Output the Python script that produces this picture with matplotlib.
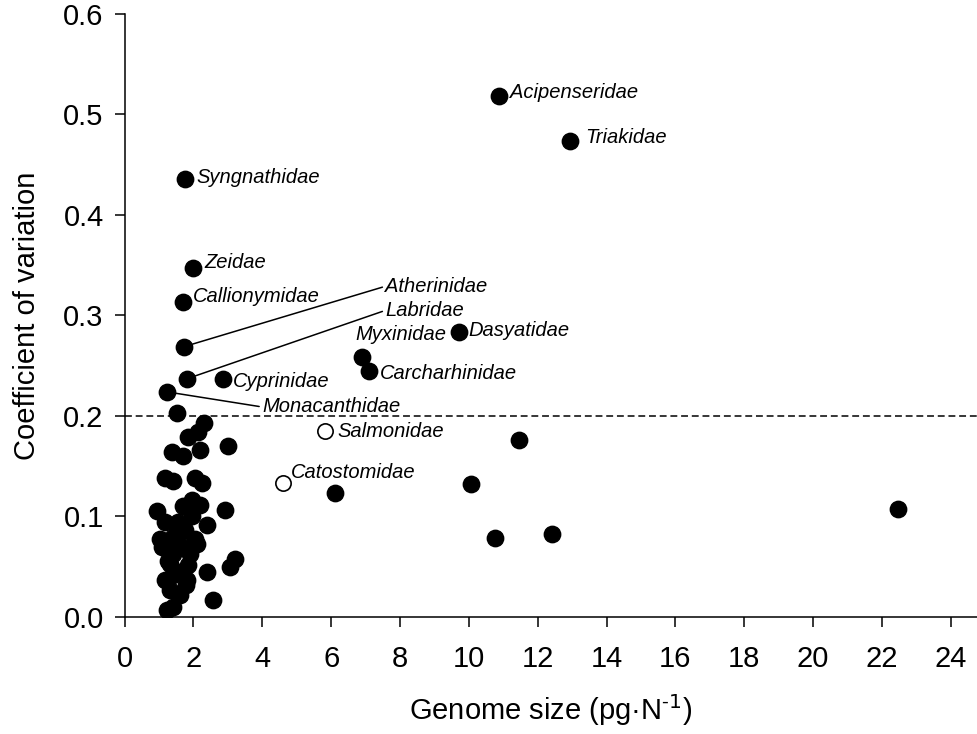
import matplotlib
matplotlib.use("Agg")
import matplotlib.pyplot as plt

plt.rcParams['font.family'] = ['Liberation Sans', 'DejaVu Sans']

# Labelled families (filled unless noted)
label_names = ["Acipenseridae", "Triakidae", "Syngnathidae", "Zeidae", "Callionymidae",
               "Atherinidae", "Labridae", "Cyprinidae", "Monacanthidae", "Myxinidae",
               "Carcharhinidae", "Dasyatidae"]
label_x = [10.88, 12.94, 1.75, 1.99, 1.70, 1.73, 1.81, 2.86, 1.23, 6.90, 7.10, 9.71]
label_y = [0.518, 0.474, 0.436, 0.347, 0.313, 0.269, 0.237, 0.237, 0.224, 0.259, 0.245, 0.284]

# Open-circle families
open_names = ["Salmonidae", "Catostomidae"]
open_x = [5.82, 4.60]
open_y = [0.185, 0.133]

# Unlabelled families
other_x = [6.11, 10.06, 11.46, 10.76, 12.42, 22.47,
           1.51, 2.31, 2.14, 1.85, 2.19, 1.39, 1.69, 3.01, 1.17, 1.41, 2.05, 2.24,
           2.92, 1.95, 2.19, 1.71, 0.93, 2.39, 1.17, 1.56, 1.95, 1.03, 1.41, 2.05,
           1.61, 1.08, 2.09, 1.41, 1.90, 1.32, 1.85, 2.39, 3.21, 3.06, 1.17, 1.80,
           1.32, 1.41, 1.22, 2.58, 1.61, 1.41, 1.78, 1.55, 1.75, 1.26, 1.61]
other_y = [0.123, 0.132, 0.176, 0.079, 0.083, 0.107,
           0.203, 0.193, 0.184, 0.179, 0.166, 0.164, 0.160, 0.170, 0.138, 0.135, 0.138, 0.133,
           0.106, 0.116, 0.111, 0.110, 0.105, 0.092, 0.095, 0.095, 0.100, 0.078, 0.080, 0.078,
           0.072, 0.070, 0.073, 0.063, 0.063, 0.053, 0.052, 0.045, 0.058, 0.050, 0.037, 0.037,
           0.027, 0.010, 0.007, 0.017, 0.045, 0.042, 0.032, 0.090, 0.087, 0.056, 0.022]

threshold = 0.2
x_ticks = list(range(0, 25, 2))
y_ticks = [0.0, 0.1, 0.2, 0.3, 0.4, 0.5, 0.6]

# label offsets in points (dx, dy) for direct labels
label_offsets = {
    "Acipenseridae": (8, 3), "Triakidae": (11, 2), "Syngnathidae": (8, 1),
    "Zeidae": (8, 4), "Callionymidae": (7, 4), "Cyprinidae": (7, -2),
    "Myxinidae": (-5, 16), "Carcharhinidae": (8, -2), "Dasyatidae": (7, 1),
    "Salmonidae": (9, 0), "Catostomidae": (6, 8),
}
# leader-line labels: text anchor in data coordinates
leader_pos = {"Atherinidae": (7.57, 0.329), "Labridae": (7.57, 0.305),
              "Monacanthidae": (3.99, 0.209)}

fig = plt.figure(figsize=(9.77, 7.34), dpi=100)
ax = fig.add_axes([0.1275, 0.1594, 0.8725, 0.8216])

ms = 11.8
ax.plot(other_x, other_y, 'o', color='black', ms=ms, ls='none', zorder=3)
ax.plot(label_x, label_y, 'o', color='black', ms=ms, ls='none', zorder=3)
ax.plot(open_x, open_y, 'o', mfc='white', mec='black', mew=1.2, ms=ms - 0.8, ls='none', zorder=3)

ax.axhline(threshold, color='black', lw=1.1, ls=(0, (4.5, 2.5)), zorder=1)

tkw = dict(fontsize=14.5, style='italic', va='center', ha='left')
for n, x, y in zip(label_names + open_names, label_x + open_x, label_y + open_y):
    if n in leader_pos:
        ax.annotate(n, xy=(x, y), xytext=leader_pos[n], textcoords='data',
                    arrowprops=dict(arrowstyle='-', color='black', lw=1.1,
                                    shrinkA=0, shrinkB=0, relpos=(0, 0.5)),
                    zorder=2, **tkw)
    else:
        ax.annotate(n, xy=(x, y), xytext=label_offsets[n], textcoords='offset points',
                    **tkw)

ax.set_xlim(0, 24.76)
ax.set_ylim(0, 0.6)
ax.set_xticks(x_ticks)
ax.set_yticks(y_ticks)
ax.set_yticklabels([f"{v:.1f}" for v in y_ticks])
ax.spines['top'].set_visible(False)
ax.spines['right'].set_visible(False)
for s in ['left', 'bottom']:
    ax.spines[s].set_linewidth(1.1)
ax.tick_params(axis='both', direction='out', length=7, width=1.1, labelsize=21)
ax.tick_params(axis='x', pad=13)
ax.tick_params(axis='y', pad=8)

ax.set_xlabel("Genome size (pg\u00b7N$^{\\mathregular{\u2010}1}$)", fontsize=21, labelpad=14)
ax.set_ylabel("Coefficient of variation", fontsize=21, labelpad=16)

fig.savefig("out.png", dpi=100)
